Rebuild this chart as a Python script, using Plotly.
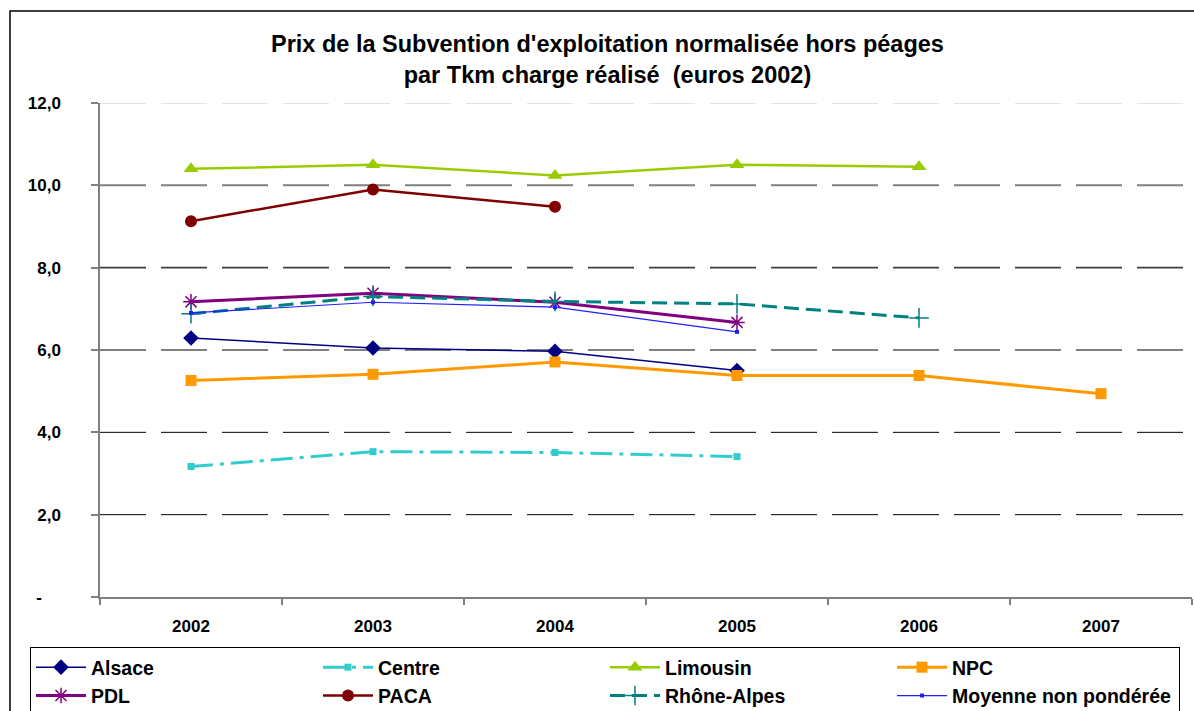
import plotly.graph_objects as go

# Years on the category axis
years = ["2002", "2003", "2004", "2005", "2006", "2007"]

# Subsidy per Tkm (euros 2002) by region
alsace = [6.29, 6.05, 5.97, 5.50, None, None]
centre = [3.17, 3.53, 3.51, 3.41, None, None]
limousin = [10.40, 10.50, 10.24, 10.50, 10.45, None]
npc = [5.26, 5.41, 5.71, 5.38, 5.38, 4.94]
pdl = [7.17, 7.38, 7.16, 6.67, None, None]
paca = [9.13, 9.90, 9.48, None, None, None]
rhone_alpes = [6.88, 7.30, 7.18, 7.12, 6.78, None]
moyenne = [6.90, 7.16, 7.04, 6.44, None, None]

# Y axis ticks
y_ticks = [0, 2, 4, 6, 8, 10, 12]
y_ticktext = ["-\u00a0\u00a0\u00a0\u00a0", "2,0", "4,0", "6,0", "8,0", "10,0", "12,0"]

FONT = "Liberation Sans, Arial, sans-serif"

series = [
    dict(name="Alsace", y=alsace, color="#000080", width=1.5, dash="solid",
         symbol="diamond", size=12, mline=0),
    dict(name="Centre", y=centre, color="#33CCCC", width=3, dash="22px,7px,4px,7px",
         symbol="square", size=7, mline=0),
    dict(name="Limousin", y=limousin, color="#99CC00", width=2.5, dash="solid",
         symbol="triangle-up", size=13, mline=0),
    dict(name="NPC", y=npc, color="#FF9900", width=3, dash="solid",
         symbol="square", size=11, mline=0),
    dict(name="PDL", y=pdl, color="#800080", width=3, dash="solid",
         symbol="asterisk-open", size=13, mline=1.5),
    dict(name="PACA", y=paca, color="#800000", width=2.5, dash="solid",
         symbol="circle", size=12, mline=0),
    dict(name="Rhône-Alpes", y=rhone_alpes, color="#008080", width=3, dash="15px,7px",
         symbol="cross-thin-open", size=14, mline=1.5),
    dict(name="Moyenne non pondérée", y=moyenne, color="#2020FF", width=1.2, dash="solid",
         symbol="square", size=4, mline=0),
]

fig = go.Figure()
for s in series:
    fig.add_trace(go.Scatter(
        x=years, y=s["y"], name=s["name"], mode="lines+markers",
        line=dict(color=s["color"], width=s["width"], dash=s["dash"]),
        marker=dict(symbol=s["symbol"], size=s["size"], color=s["color"],
                    line=dict(color=s["color"], width=s["mline"])),
        connectgaps=False,
    ))

# Dashed horizontal gridlines
grid_colors = {2: "#000000", 4: "#000000", 6: "#000000", 8: "#404040",
               10: "#808080", 12: "#c8c8c8"}
grid_widths = {2: 1, 4: 1, 6: 1, 8: 1.6, 10: 2, 12: 1}
shapes = []
for v in y_ticks[1:]:
    shapes.append(dict(type="line", xref="paper", yref="y", x0=0, x1=1, y0=v, y1=v,
                       line=dict(color=grid_colors[v], width=grid_widths[v],
                                 dash="46px,15px"),
                       layer="below"))
# Outer chart frame
shapes.append(dict(type="rect", xref="paper", yref="paper",
                   x0=(10 - 100) / 1092, x1=1.2, y0=-0.4, y1=(597 - 11) / 494,
                   line=dict(color="#000000", width=1.5), fillcolor="rgba(0,0,0,0)"))

fig.update_layout(
    width=1194, height=711,
    margin=dict(l=100, r=2, t=103, b=114, autoexpand=False),
    paper_bgcolor="white", plot_bgcolor="white",
    font=dict(family=FONT, color="black"),
    shapes=shapes,
    showlegend=True,
    legend=dict(
        orientation="h", x=(30 - 100) / 1092, xanchor="left",
        y=-(647 - 597) / 494, yanchor="top",
        font=dict(family=FONT, size=19.5, color="black", weight="bold"),
        bordercolor="black", borderwidth=1, bgcolor="white",
        itemwidth=50, entrywidth=222, entrywidthmode="pixels",
        traceorder="normal",
    ),
    annotations=[dict(
        text="Prix de la Subvention d'exploitation normalisée hors péages<br>"
             "par Tkm charge réalisé  (euros 2002)",
        xref="paper", yref="paper", x=(607 - 100) / 1092, y=(597 - 60) / 494,
        xanchor="center", yanchor="middle", showarrow=False,
        font=dict(family=FONT, size=23.5, color="black", weight="bold"),
    )],
)

fig.update_xaxes(
    type="category", range=[-0.5, 5.5], categoryorder="array", categoryarray=years,
    showgrid=False, showline=True, linecolor="#808080", linewidth=1.5,
    ticks="outside", tickson="boundaries", ticklen=6, tickcolor="#808080", tickwidth=1.5,
    ticklabelstandoff=13,
    tickfont=dict(family=FONT, size=17, color="black", weight="bold"),
    zeroline=False,
)
fig.update_yaxes(
    range=[0, 12], tickvals=y_ticks, ticktext=y_ticktext,
    showgrid=False, showline=True, linecolor="#808080", linewidth=1.5,
    ticks="outside", ticklen=7, tickcolor="#808080", tickwidth=1.5,
    ticklabelstandoff=27,
    tickfont=dict(family=FONT, size=17, color="black", weight="bold"),
    zeroline=False,
)

fig.write_html("out.html")
